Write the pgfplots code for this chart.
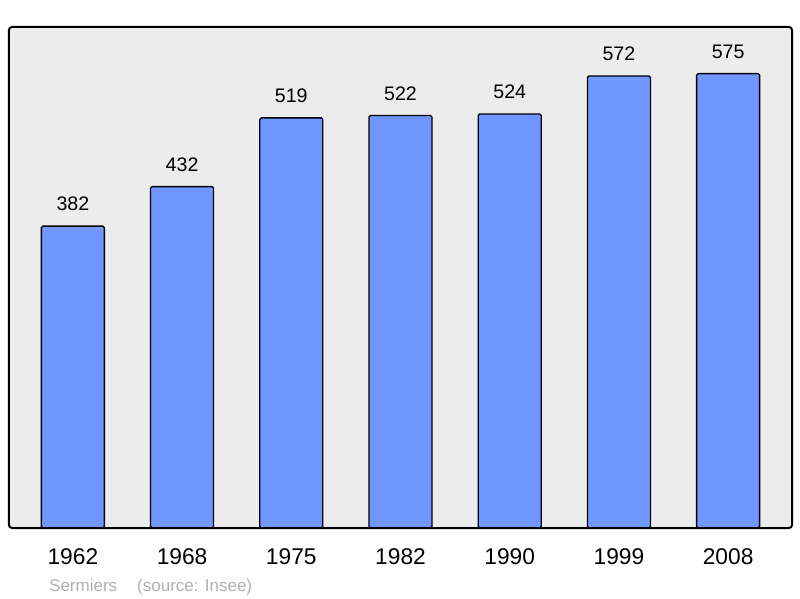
\documentclass[border=0pt]{standalone}
\usepackage{pgfplots}
\pgfplotsset{compat=1.18}
\usepackage{fontspec}
\setmainfont{Liberation Sans}
\definecolor{barblue}{RGB}{112,150,255}
\definecolor{bggray}{RGB}{236,236,236}
\definecolor{notegray}{RGB}{176,176,176}
\begin{document}
\begin{tikzpicture}[x=1pt,y=1pt]
\useasboundingbox (0,0) rectangle (800,598);
\begin{axis}[
  at={(9pt,70pt)}, anchor=south west,
  scale only axis, width=783pt, height=501pt,
  xmin=-0.585, xmax=6.585, ymin=0, ymax=634,
  axis line style={draw=none},
  axis background/.style={fill=bggray, rounded corners=3pt},
  ytick=\empty,
  xtick={0,...,6},
  xticklabels={1962,1968,1975,1982,1990,1999,2008},
  xtick style={draw=none},
  xticklabel style={font=\fontsize{22.75}{26}\selectfont, inner sep=0pt, anchor=north, yshift=-16pt},
  /pgf/number format/assume math mode=true,
  ybar, bar width=63pt,
  nodes near coords,
  every node near coord/.append style={font=\fontsize{19.6}{22}\selectfont, inner sep=0pt, anchor=south, yshift=14.5pt, black},
  clip=false,
]
\addplot[fill=barblue, draw=black, line width=1.3pt, rounded corners=1.5pt] coordinates {
(0,382) (1,432) (2,519) (3,522) (4,524) (5,572) (6,575)};
\draw[black, line width=2pt, rounded corners=3pt] (rel axis cs:0,0) rectangle (rel axis cs:1,1);
\end{axis}
\node[anchor=base west, inner sep=0pt, text=notegray, font=\fontsize{17}{19}\selectfont] at (49,7) {Sermiers};
\node[anchor=base west, inner sep=0pt, text=notegray, font=\fontsize{17}{19}\selectfont] at (137,7) {(source: Insee)};
\end{tikzpicture}
\end{document}
